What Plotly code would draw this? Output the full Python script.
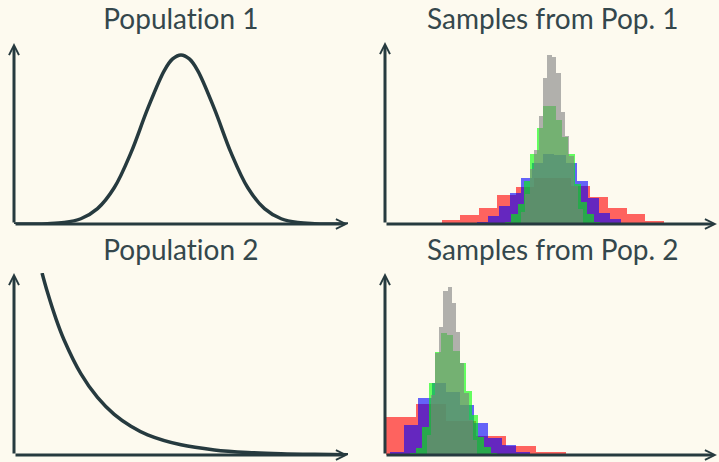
import plotly.graph_objects as go

# ---------------- data ----------------
# Population 1: bell-shaped density (x in 0..10, y relative height)
pop1_x = [0, 1, 1.5, 2, 2.5, 3, 3.5, 4, 4.5, 4.75, 5, 5.25, 5.5, 6, 6.5, 7, 7.5, 8, 8.5, 9, 10]
pop1_y = [0, 0.002, 0.008, 0.029, 0.085, 0.200, 0.393, 0.636, 0.848, 0.912, 0.934,
          0.912, 0.848, 0.636, 0.393, 0.200, 0.085, 0.029, 0.008, 0.002, 0]

# Population 2: decaying density
pop2_x = [0.84, 1.0, 1.25, 1.5, 2.0, 2.5, 3.0, 3.5, 4.0, 5.0, 6.0, 7.0, 8.0, 9.0, 10.0]
pop2_y = [1.0, 0.895, 0.752, 0.632, 0.447, 0.316, 0.223, 0.158, 0.111, 0.056,
          0.028, 0.014, 0.007, 0.0035, 0.0017]

# Samples from Pop. 1 -- four histograms (first bin edge, bin width, heights)
s1_red_start, s1_red_width = 1.15, 0.557
s1_red = [0.008, 0.022, 0.049, 0.088, 0.159, 0.203, 0.253, 0.253, 0.209, 0.148, 0.088, 0.055, 0.016]
s1_blue_start, s1_blue_width = 2.771, 0.3334
s1_blue = [0.011, 0.044, 0.099, 0.170, 0.253, 0.335, 0.385, 0.379, 0.335, 0.236, 0.143, 0.060, 0.027, 0.008]
s1_green_start, s1_green_width = 3.614, 0.1907
s1_green = [0.011, 0.055, 0.110, 0.236, 0.385, 0.527, 0.648, 0.648, 0.571, 0.478, 0.385, 0.220, 0.121, 0.055, 0.011]
s1_gray_start, s1_gray_width = 4.096, 0.1325
s1_gray = [0.066, 0.165, 0.302, 0.407, 0.593, 0.802, 0.929, 0.918, 0.830, 0.615, 0.484, 0.374, 0.209, 0.082]

# Samples from Pop. 2
s2_red_start, s2_red_width = 0.03, 0.904
s2_red = [0.209, 0.280, 0.187, 0.104, 0.049, 0.016, 0.008]
s2_blue_start, s2_blue_width = 0.151, 0.4217
s2_blue = [0.016, 0.165, 0.313, 0.396, 0.346, 0.275, 0.176, 0.093, 0.055, 0.016, 0.008]
s2_green_start, s2_green_width = 0.753, 0.1867
s2_green = [0.011, 0.038, 0.154, 0.396, 0.566, 0.670, 0.659, 0.571, 0.505, 0.352, 0.220, 0.099, 0.044, 0.011]
s2_gray_start, s2_gray_width = 1.25, 0.1265
s2_gray = [0.110, 0.330, 0.560, 0.703, 0.901, 0.923, 0.835, 0.676, 0.505, 0.341, 0.192, 0.082]

titles = ["Population 1", "Samples from Pop. 1", "Population 2", "Samples from Pop. 2"]

# ---------------- styling ----------------
BG = "#fdfaef"
INK = "#263a3f"
TXT = "#34474c"
W, H = 719, 462
FONT = "Lato"

fig = go.Figure()

def px_x(a, b):
    return [a / W, b / W]

def px_y(bottom, top):
    return [(H - bottom) / H, (H - top) / H]

# subplot axes: (x-domain px, y-domain px)
panels = {
    1: (px_x(14, 348), px_y(224, 43)),
    2: (px_x(385, 717), px_y(224, 42)),
    3: (px_x(14, 348), px_y(455, 273)),
    4: (px_x(385, 717), px_y(455, 273)),
}
layout_axes = {}
for i, (xd, yd) in panels.items():
    sfx = "" if i == 1 else str(i)
    layout_axes["xaxis" + sfx] = dict(domain=xd, range=[0, 10], anchor="y" + sfx,
                                      showgrid=False, zeroline=False, showticklabels=False,
                                      showline=False, ticks="", fixedrange=True)
    layout_axes["yaxis" + sfx] = dict(domain=yd, range=[0, 1], anchor="x" + sfx,
                                      showgrid=False, zeroline=False, showticklabels=False,
                                      showline=False, ticks="", fixedrange=True)

# population curves
fig.add_trace(go.Scatter(x=pop1_x, y=pop1_y, mode="lines", line=dict(color=INK, width=3.5, shape="spline"),
                         xaxis="x", yaxis="y", showlegend=False, hoverinfo="skip"))
fig.add_trace(go.Scatter(x=pop2_x, y=pop2_y, mode="lines", line=dict(color=INK, width=3.5, shape="spline"),
                         xaxis="x3", yaxis="y3", showlegend=False, hoverinfo="skip"))

def hist(start, width, heights, color, xa, ya):
    edges = [start + k * width for k in range(len(heights))]
    fig.add_trace(go.Bar(x=edges, y=heights, width=width, offset=0,
                         marker=dict(color=color, line=dict(width=0)), opacity=0.6,
                         xaxis=xa, yaxis=ya, showlegend=False, hoverinfo="skip"))

hist(s1_red_start, s1_red_width, s1_red, "#ff0000", "x2", "y2")
hist(s1_blue_start, s1_blue_width, s1_blue, "#0000ff", "x2", "y2")
hist(s1_green_start, s1_green_width, s1_green, "#00ff00", "x2", "y2")
hist(s1_gray_start, s1_gray_width, s1_gray, "#808080", "x2", "y2")

hist(s2_red_start, s2_red_width, s2_red, "#ff0000", "x4", "y4")
hist(s2_blue_start, s2_blue_width, s2_blue, "#0000ff", "x4", "y4")
hist(s2_green_start, s2_green_width, s2_green, "#00ff00", "x4", "y4")
hist(s2_gray_start, s2_gray_width, s2_gray, "#808080", "x4", "y4")

annotations = []
for i in panels:
    sfx = "" if i == 1 else str(i)
    xr, yr = "x" + sfx, "y" + sfx
    for (tx, ty) in [(10, 0), (0, 1)]:
        annotations.append(dict(x=tx, y=ty, ax=0, ay=0, xref=xr, yref=yr, axref=xr, ayref=yr,
                                text="", showarrow=True, arrowhead=5, arrowsize=0.65,
                                arrowwidth=3, arrowcolor=INK, standoff=0, startstandoff=0))

title_pos = [(181, 18), (552, 18), (181, 249), (552, 249)]
for t, (cx, cy) in zip(titles, title_pos):
    annotations.append(dict(text=t, x=cx / W, y=1 - cy / H, xref="paper", yref="paper",
                            xanchor="center", yanchor="middle", showarrow=False,
                            font=dict(family=FONT, size=28, color=TXT)))

fig.update_layout(width=W, height=H, margin=dict(l=0, r=0, t=0, b=0),
                  paper_bgcolor=BG, plot_bgcolor=BG, barmode="overlay", bargap=0,
                  annotations=annotations, **layout_axes)

page_fix = (
    "document.body.style.margin='0';"
    "document.body.style.padding='0';"
    "document.body.style.overflow='hidden';"
    "document.body.style.background='" + BG + "';"
    "var st=document.createElement('style');"
    "st.textContent='svg text{font-variant-ligatures:none !important;}';"
    "document.head.appendChild(st);"
)
fig.write_html("out.html", post_script=page_fix, config={"displayModeBar": False, "staticPlot": True})
